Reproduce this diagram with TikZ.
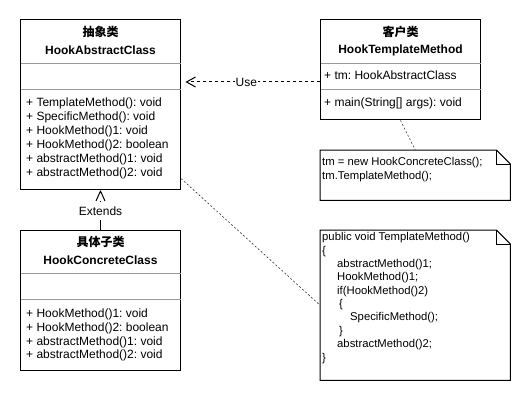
\documentclass[tikz,border=0pt]{standalone}
\usepackage{fontspec}
\setmainfont{Liberation Sans}
\newfontfamily\cjk{Noto Sans CJK SC}
\usetikzlibrary{arrows.meta, positioning}
\frenchspacing

\begin{document}
\begin{tikzpicture}[x=1pt, y=-1pt, font={\fontsize{12}{14}\selectfont}]
	\tikzstyle{cls} = [draw, rectangle, line width=1pt, minimum width=160pt, inner sep=0pt];
	\tikzstyle{notebox} = [rectangle, minimum width=190pt, inner sep=0pt];
	\tikzstyle{clstitle} = [inner sep=0pt, font={\fontsize{12}{14}\selectfont\bfseries}];
	\tikzstyle{member} = [anchor=west, inner sep=0pt, text height=8.7pt, text depth=2.7pt];
	\tikzstyle{noteline} = [member, font={\fontsize{11.3}{13}\selectfont}, text height=8.2pt, text depth=2.5pt];
	\tikzstyle{divider} = [draw=black!40, line width=1pt, shorten <=0.5pt, shorten >=0.5pt];
	\tikzstyle{outline} = [line width=1pt, line join=miter];
	\tikzstyle{depend} = [-{Straight Barb[length=9pt, width=10pt]}, line width=1pt, dash pattern=on 3pt off 3pt];
	\tikzstyle{attach} = [line width=0.6pt, dash pattern=on 2pt off 2pt, black!80];
	\tikzstyle{inherit} = [line width=1pt, shorten >=11pt];

	\useasboundingbox (0,0) rectangle (531,401);

	% classes
	\node[cls, minimum height=170pt] (abs) at (100.5,105) {};
	\node[cls, minimum height=100pt] (cli) at (400.5,70) {};
	\node[cls, minimum height=140pt] (con) at (100.5,300.5) {};

	\node[clstitle] (abs-cn) at (100.5,32) {\cjk 抽象类};
	\node[clstitle] (abs-en) at (100.5,50) {HookAbstractClass};
	\node[clstitle] (cli-cn) at (400.5,32) {\cjk 客户类};
	\node[clstitle] (cli-en) at (400.5,50) {HookTemplateMethod};
	\node[clstitle] (con-cn) at (100.5,242) {\cjk 具体子类};
	\node[clstitle] (con-en) at (100.5,260) {HookConcreteClass};

	\foreach \y in {63.5,90} {
		\draw[divider] (abs.west |- 0,\y) -- (abs.east |- 0,\y);
		\draw[divider] (cli.west |- 0,\y) -- (cli.east |- 0,\y);
	}
	\foreach \y in {273.5,300} {
		\draw[divider] (con.west |- 0,\y) -- (con.east |- 0,\y);
	}

	\foreach \m [count=\i] in {+ TemplateMethod(): void, + SpecificMethod(): void, + HookMethod()1: void, + HookMethod()2: boolean, + abstractMethod()1: void, + abstractMethod()2: void} {
		\node[member] (abs-m\i) at (26, 90+14*\i) {\m};
	}
	\foreach \m [count=\i] in {+ HookMethod()1: void, + HookMethod()2: boolean, + abstractMethod()1: void, + abstractMethod()2: void} {
		\node[member] (con-m\i) at (26, 300+14*\i) {\m};
	}
	\node[member] (cli-a1) at (324,77) {+ tm: HookAbstractClass};
	\node[member] (cli-m1) at (324,104) {+ main(String[] args): void};

	% notes
	\node[notebox, minimum height=50pt] (n1) at (415.25,175.25) {};
	\node[notebox, minimum height=150pt] (n2) at (415.25,305.25) {};
	\foreach \n in {n1,n2} {
		\draw[outline] (\n.north west) -- ([xshift=-14pt]\n.north east) -- ([yshift=-14pt]\n.north east) -- (\n.south east) -- (\n.south west) -- cycle;
		\draw[outline] ([xshift=-14pt]\n.north east) -- ++(0,14) -- ++(14,0);
	}
	\node[noteline] (n1-l1) at (322,163) {tm = new HookConcreteClass();};
	\node[noteline] (n1-l2) at (322,176.5) {tm.TemplateMethod();};
	\foreach \t/\x [count=\i] in {public void TemplateMethod()/322, \{/322, abstractMethod()1;/337, HookMethod()1;/337, if(HookMethod()2)/337, \{/339, SpecificMethod();/350, \}/339, abstractMethod()2;/337, \}/322} {
		\node[noteline] (n2-l\i) at (\x, 238+13.35*\i-13.35) {\t};
	}

	% connectors
	\coordinate (usestart) at ([yshift=-12pt]cli.west);
	\draw[depend, shorten >=4.5pt] (usestart) -- (usestart -| abs.east)
		node[pos=0.53, fill=white, inner sep=1pt] (uselbl) {Use};
	\draw[attach] (cli.south) -- (n1.north);
	\draw[attach] ([yshift=12pt]abs.south east) -- (n2.west);
	\draw[inherit] (con.north) -- (abs.south)
		node[pos=0.47, fill=white, inner sep=0pt, minimum height=18pt] (extlbl) {Extends};
	\draw[line width=1pt, line join=round] ([xshift=-4.5pt, yshift=-10.5pt]abs.south) -- ([yshift=-0.5pt]abs.south) -- ([xshift=4.5pt, yshift=-10.5pt]abs.south);
\end{tikzpicture}
\end{document}
